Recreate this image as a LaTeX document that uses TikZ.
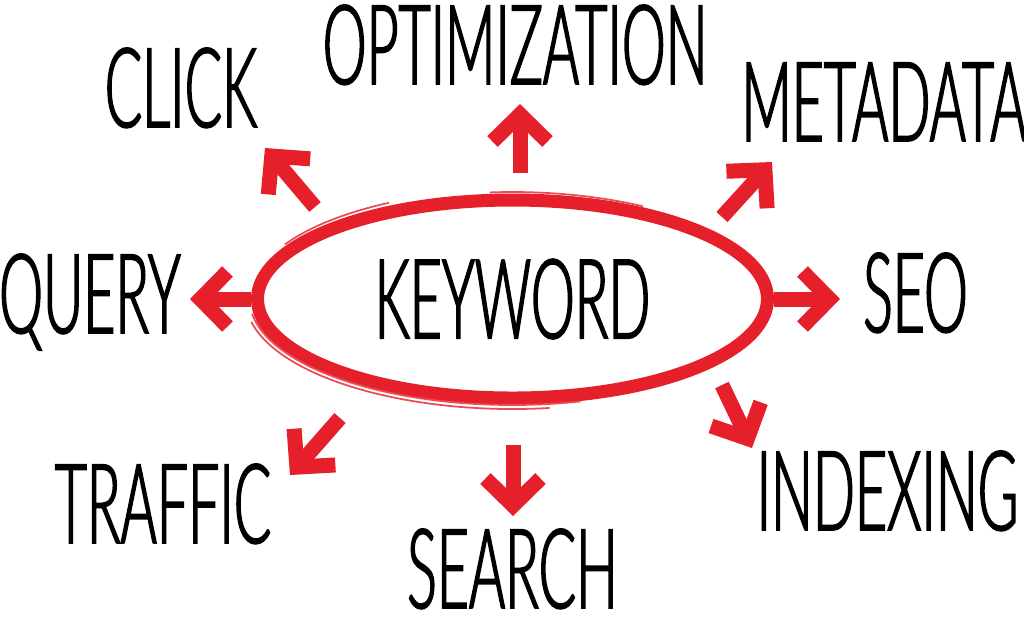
\documentclass[tikz,border=0pt]{standalone}
\usepackage{fontspec}
\setmainfont{Lato}[UprightFont={* Light}, FakeStretch=0.5, FakeBold=1.5]
\usetikzlibrary{arrows.meta,positioning,shapes.geometric}
\definecolor{kwred}{RGB}{230,32,42}
\newcommand{\wordfont}{\fontsize{31.5}{36}\selectfont}

\begin{document}
\begin{tikzpicture}[
    word/.style={font=\wordfont, inner sep=0pt, anchor=base},
    arr/.style={kwred, line width=0.15cm, -{Straight Barb[length=0.27cm, width=0.55cm]}},
    sketch/.style={kwred!80, line width=0.5pt}]
\useasboundingbox (0,0) rectangle (10.24,-6.25);

% Centre ellipse
\node[ellipse, draw=kwred, line width=0.13cm, minimum width=5.1cm, minimum height=1.98cm,
      inner sep=0pt, font=\wordfont] (kw) at (5.125,-2.99) {KEYWORD};
\draw[sketch] (kw.center) ++(188:2.63 and 1.06) arc[start angle=188, end angle=285, x radius=2.63cm, y radius=1.06cm];
\draw[sketch] (kw.center) ++(192:2.67 and 1.10) arc[start angle=192, end angle=278, x radius=2.67cm, y radius=1.10cm];
\draw[sketch] (kw.center) ++(60:2.61 and 1.07) arc[start angle=60, end angle=95, x radius=2.61cm, y radius=1.07cm];
\draw[sketch] (kw.center) ++(118:2.63 and 1.09) arc[start angle=118, end angle=150, x radius=2.63cm, y radius=1.09cm];

% Words around
\node[word] (opt) at (5.15,-0.84) {OPTIMIZATION};
\node[word] (click) at (1.81,-1.27) {CLICK};
\node[word] (meta) at (8.84,-1.41) {METADATA};
\node[word] (query) at (0.90,-3.33) {QUERY};
\node[word] (seo) at (9.155,-3.32) {SEO};
\node[word] (traffic) at (1.63,-5.43) {TRAFFIC};
\node[word] (search) at (5.125,-6.08) {SEARCH};
\node[word] (index) at (8.875,-5.30) {INDEXING};

% Arrow ends
\coordinate (optA) at (5.20,-1.73);   \coordinate (optB) at (5.20,-1.04);
\coordinate (clickA) at (3.15,-2.07); \coordinate (clickB) at (2.65,-1.48);
\coordinate (metaA) at (7.22,-2.17);  \coordinate (metaB) at (7.72,-1.62);
\coordinate (queryB) at (1.90,-2.99);
\coordinate (seoB) at (8.40,-2.99);
\coordinate (trafA) at (3.40,-4.18);  \coordinate (trafB) at (2.90,-4.75);
\coordinate (searchA) at (5.13,-4.45); \coordinate (searchB) at (5.13,-5.16);
\coordinate (indexA) at (7.22,-3.85); \coordinate (indexB) at (7.52,-4.48);

% Arrows
\draw[arr] (optA) -- (optB);
\draw[arr] (clickA) -- (clickB);
\draw[arr] (metaA) -- (metaB);
\draw[arr] (kw.west) -- (queryB);
\draw[arr] (kw.east) -- (seoB);
\draw[arr] (trafA) -- (trafB);
\draw[arr] (searchA) -- (searchB);
\draw[arr] (indexA) -- (indexB);
\end{tikzpicture}
\end{document}
